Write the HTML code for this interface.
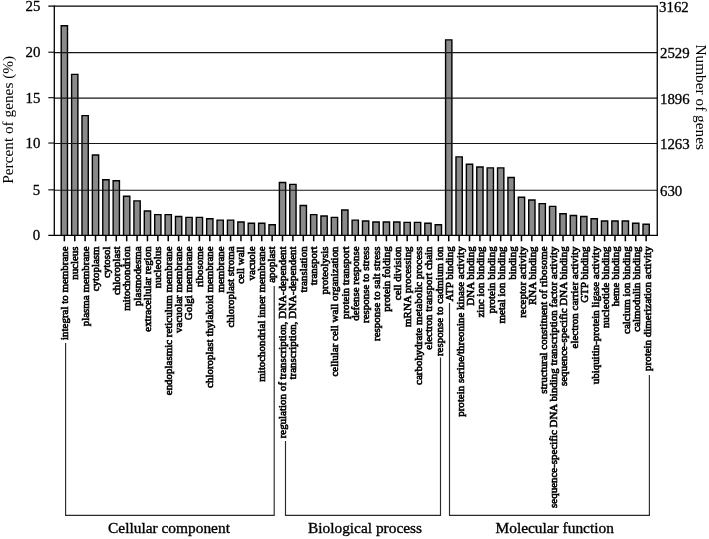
<!DOCTYPE html>
<html lang="en"><head><meta charset="utf-8"><title>GO classification</title>
<style>html,body{margin:0;padding:0;background:#fff;}body{width:709px;height:539px;overflow:hidden;}svg{display:block;font-family:"Liberation Serif","Times New Roman",serif;fill:#000;}svg{will-change:transform;}.lb{font-size:10.95px;stroke:#000;stroke-width:0.6px;}.tk{font-size:15.0px;stroke:#000;stroke-width:0.3px;}.gp{font-size:15.4px;stroke:#000;stroke-width:0.35px;}.ax{font-size:16px;}</style></head><body>
<svg width="709" height="539" viewBox="0 0 709 539">
<rect x="0" y="0" width="709" height="539" fill="#fff"/>
<g fill="#8a8a8a" stroke="#000" stroke-width="1.4">
<path d="M61.20 235.30V25.75H67.50V235.30"/>
<path d="M71.59 235.30V74.34H77.89V235.30"/>
<path d="M81.98 235.30V115.60H88.28V235.30"/>
<path d="M92.37 235.30V155.02H98.67V235.30"/>
<path d="M102.76 235.30V179.78H109.06V235.30"/>
<path d="M113.14 235.30V180.69H119.44V235.30"/>
<path d="M123.53 235.30V196.28H129.83V235.30"/>
<path d="M133.92 235.30V200.86H140.22V235.30"/>
<path d="M144.31 235.30V210.95H150.61V235.30"/>
<path d="M154.70 235.30V214.61H161.00V235.30"/>
<path d="M165.09 235.30V214.61H171.39V235.30"/>
<path d="M175.48 235.30V216.45H181.78V235.30"/>
<path d="M185.87 235.30V217.36H192.17V235.30"/>
<path d="M196.26 235.30V217.36H202.56V235.30"/>
<path d="M206.65 235.30V218.74H212.95V235.30"/>
<path d="M217.03 235.30V220.11H223.33V235.30"/>
<path d="M227.42 235.30V220.11H233.72V235.30"/>
<path d="M237.81 235.30V221.95H244.11V235.30"/>
<path d="M248.20 235.30V223.32H254.50V235.30"/>
<path d="M258.59 235.30V223.32H264.89V235.30"/>
<path d="M268.98 235.30V224.70H275.28V235.30"/>
<path d="M279.37 235.30V182.53H285.67V235.30"/>
<path d="M289.76 235.30V184.36H296.06V235.30"/>
<path d="M300.15 235.30V205.45H306.45V235.30"/>
<path d="M310.54 235.30V214.61H316.84V235.30"/>
<path d="M320.92 235.30V215.99H327.22V235.30"/>
<path d="M331.31 235.30V217.36H337.61V235.30"/>
<path d="M341.70 235.30V210.03H348.00V235.30"/>
<path d="M352.09 235.30V220.11H358.39V235.30"/>
<path d="M362.48 235.30V221.03H368.78V235.30"/>
<path d="M372.87 235.30V221.95H379.17V235.30"/>
<path d="M383.26 235.30V221.95H389.56V235.30"/>
<path d="M393.65 235.30V221.95H399.95V235.30"/>
<path d="M404.04 235.30V222.41H410.34V235.30"/>
<path d="M414.43 235.30V222.41H420.73V235.30"/>
<path d="M424.81 235.30V223.32H431.11V235.30"/>
<path d="M435.20 235.30V224.70H441.50V235.30"/>
<path d="M445.59 235.30V39.87H451.89V235.30"/>
<path d="M455.98 235.30V156.86H462.28V235.30"/>
<path d="M466.37 235.30V164.19H472.67V235.30"/>
<path d="M476.76 235.30V166.94H483.06V235.30"/>
<path d="M487.15 235.30V167.86H493.45V235.30"/>
<path d="M497.54 235.30V167.86H503.84V235.30"/>
<path d="M507.93 235.30V177.48H514.23V235.30"/>
<path d="M518.32 235.30V197.19H524.62V235.30"/>
<path d="M528.71 235.30V199.94H535.00V235.30"/>
<path d="M539.09 235.30V203.61H545.39V235.30"/>
<path d="M549.48 235.30V206.36H555.78V235.30"/>
<path d="M559.87 235.30V213.70H566.17V235.30"/>
<path d="M570.26 235.30V215.53H576.56V235.30"/>
<path d="M580.65 235.30V216.45H586.95V235.30"/>
<path d="M591.04 235.30V218.74H597.34V235.30"/>
<path d="M601.43 235.30V221.03H607.73V235.30"/>
<path d="M611.82 235.30V221.03H618.12V235.30"/>
<path d="M622.21 235.30V221.03H628.51V235.30"/>
<path d="M632.60 235.30V223.32H638.89V235.30"/>
<path d="M642.98 235.30V224.24H649.28V235.30"/>
</g>
<g stroke="#161616" stroke-width="1.12" fill="none">
<line x1="54.30" y1="190.25" x2="657.25" y2="190.25"/>
<line x1="54.30" y1="143.45" x2="657.25" y2="143.45"/>
<line x1="54.30" y1="98.10" x2="657.25" y2="98.10"/>
<line x1="54.30" y1="52.60" x2="657.25" y2="52.60"/>
</g>
<g stroke="#000" stroke-width="1.3" fill="none">
<line x1="54.30" y1="5.50" x2="54.30" y2="235.90"/>
<line x1="657.25" y1="5.50" x2="657.25" y2="235.90"/>
<line x1="48.30" y1="235.30" x2="657.25" y2="235.30"/>
<line x1="48.30" y1="6.10" x2="657.25" y2="6.10"/>
<line x1="64.35" y1="235.30" x2="64.35" y2="241.30" stroke-width="1.5"/>
<line x1="74.74" y1="235.30" x2="74.74" y2="241.30" stroke-width="1.5"/>
<line x1="85.13" y1="235.30" x2="85.13" y2="241.30" stroke-width="1.5"/>
<line x1="95.52" y1="235.30" x2="95.52" y2="241.30" stroke-width="1.5"/>
<line x1="105.91" y1="235.30" x2="105.91" y2="241.30" stroke-width="1.5"/>
<line x1="116.29" y1="235.30" x2="116.29" y2="241.30" stroke-width="1.5"/>
<line x1="126.68" y1="235.30" x2="126.68" y2="241.30" stroke-width="1.5"/>
<line x1="137.07" y1="235.30" x2="137.07" y2="241.30" stroke-width="1.5"/>
<line x1="147.46" y1="235.30" x2="147.46" y2="241.30" stroke-width="1.5"/>
<line x1="157.85" y1="235.30" x2="157.85" y2="241.30" stroke-width="1.5"/>
<line x1="168.24" y1="235.30" x2="168.24" y2="241.30" stroke-width="1.5"/>
<line x1="178.63" y1="235.30" x2="178.63" y2="241.30" stroke-width="1.5"/>
<line x1="189.02" y1="235.30" x2="189.02" y2="241.30" stroke-width="1.5"/>
<line x1="199.41" y1="235.30" x2="199.41" y2="241.30" stroke-width="1.5"/>
<line x1="209.80" y1="235.30" x2="209.80" y2="241.30" stroke-width="1.5"/>
<line x1="220.18" y1="235.30" x2="220.18" y2="241.30" stroke-width="1.5"/>
<line x1="230.57" y1="235.30" x2="230.57" y2="241.30" stroke-width="1.5"/>
<line x1="240.96" y1="235.30" x2="240.96" y2="241.30" stroke-width="1.5"/>
<line x1="251.35" y1="235.30" x2="251.35" y2="241.30" stroke-width="1.5"/>
<line x1="261.74" y1="235.30" x2="261.74" y2="241.30" stroke-width="1.5"/>
<line x1="272.13" y1="235.30" x2="272.13" y2="241.30" stroke-width="1.5"/>
<line x1="282.52" y1="235.30" x2="282.52" y2="241.30" stroke-width="1.5"/>
<line x1="292.91" y1="235.30" x2="292.91" y2="241.30" stroke-width="1.5"/>
<line x1="303.30" y1="235.30" x2="303.30" y2="241.30" stroke-width="1.5"/>
<line x1="313.69" y1="235.30" x2="313.69" y2="241.30" stroke-width="1.5"/>
<line x1="324.07" y1="235.30" x2="324.07" y2="241.30" stroke-width="1.5"/>
<line x1="334.46" y1="235.30" x2="334.46" y2="241.30" stroke-width="1.5"/>
<line x1="344.85" y1="235.30" x2="344.85" y2="241.30" stroke-width="1.5"/>
<line x1="355.24" y1="235.30" x2="355.24" y2="241.30" stroke-width="1.5"/>
<line x1="365.63" y1="235.30" x2="365.63" y2="241.30" stroke-width="1.5"/>
<line x1="376.02" y1="235.30" x2="376.02" y2="241.30" stroke-width="1.5"/>
<line x1="386.41" y1="235.30" x2="386.41" y2="241.30" stroke-width="1.5"/>
<line x1="396.80" y1="235.30" x2="396.80" y2="241.30" stroke-width="1.5"/>
<line x1="407.19" y1="235.30" x2="407.19" y2="241.30" stroke-width="1.5"/>
<line x1="417.58" y1="235.30" x2="417.58" y2="241.30" stroke-width="1.5"/>
<line x1="427.96" y1="235.30" x2="427.96" y2="241.30" stroke-width="1.5"/>
<line x1="438.35" y1="235.30" x2="438.35" y2="241.30" stroke-width="1.5"/>
<line x1="448.74" y1="235.30" x2="448.74" y2="241.30" stroke-width="1.5"/>
<line x1="459.13" y1="235.30" x2="459.13" y2="241.30" stroke-width="1.5"/>
<line x1="469.52" y1="235.30" x2="469.52" y2="241.30" stroke-width="1.5"/>
<line x1="479.91" y1="235.30" x2="479.91" y2="241.30" stroke-width="1.5"/>
<line x1="490.30" y1="235.30" x2="490.30" y2="241.30" stroke-width="1.5"/>
<line x1="500.69" y1="235.30" x2="500.69" y2="241.30" stroke-width="1.5"/>
<line x1="511.08" y1="235.30" x2="511.08" y2="241.30" stroke-width="1.5"/>
<line x1="521.47" y1="235.30" x2="521.47" y2="241.30" stroke-width="1.5"/>
<line x1="531.86" y1="235.30" x2="531.86" y2="241.30" stroke-width="1.5"/>
<line x1="542.24" y1="235.30" x2="542.24" y2="241.30" stroke-width="1.5"/>
<line x1="552.63" y1="235.30" x2="552.63" y2="241.30" stroke-width="1.5"/>
<line x1="563.02" y1="235.30" x2="563.02" y2="241.30" stroke-width="1.5"/>
<line x1="573.41" y1="235.30" x2="573.41" y2="241.30" stroke-width="1.5"/>
<line x1="583.80" y1="235.30" x2="583.80" y2="241.30" stroke-width="1.5"/>
<line x1="594.19" y1="235.30" x2="594.19" y2="241.30" stroke-width="1.5"/>
<line x1="604.58" y1="235.30" x2="604.58" y2="241.30" stroke-width="1.5"/>
<line x1="614.97" y1="235.30" x2="614.97" y2="241.30" stroke-width="1.5"/>
<line x1="625.36" y1="235.30" x2="625.36" y2="241.30" stroke-width="1.5"/>
<line x1="635.75" y1="235.30" x2="635.75" y2="241.30" stroke-width="1.5"/>
<line x1="646.13" y1="235.30" x2="646.13" y2="241.30" stroke-width="1.5"/>
<line x1="48.30" y1="189.85" x2="54.30" y2="189.85" stroke-width="1.1"/>
<line x1="48.30" y1="143.05" x2="54.30" y2="143.05" stroke-width="1.1"/>
<line x1="48.30" y1="97.70" x2="54.30" y2="97.70" stroke-width="1.1"/>
<line x1="48.30" y1="52.20" x2="54.30" y2="52.20" stroke-width="1.1"/>
</g>
<g class="tk" text-anchor="end">
<text transform="translate(40.30,240.10) scale(0.99,1.025)">0</text>
<text transform="translate(40.30,195.05) scale(0.99,1.025)">5</text>
<text transform="translate(40.30,148.25) scale(0.99,1.025)">10</text>
<text transform="translate(40.30,102.90) scale(0.99,1.025)">15</text>
<text transform="translate(40.30,57.40) scale(0.99,1.025)">20</text>
<text transform="translate(40.30,10.90) scale(0.99,1.025)">25</text>
</g>
<g class="tk" text-anchor="start">
<text transform="translate(660.00,195.75) scale(0.99,1.025)">630</text>
<text transform="translate(660.00,148.95) scale(0.99,1.025)">1263</text>
<text transform="translate(660.00,103.60) scale(0.99,1.025)">1896</text>
<text transform="translate(660.00,58.10) scale(0.99,1.025)">2529</text>
<text transform="translate(659.10,11.60) scale(0.99,1.025)">3162</text>
</g>
<text class="ax" style="font-size:15.3px" text-anchor="middle" transform="translate(13.2,119.8) rotate(-90)">Percent of genes (%)</text>
<text class="ax" style="font-size:15.3px" text-anchor="middle" transform="translate(695.8,97.2) rotate(90)">Number of genes</text>
<g class="lb" text-anchor="end">
<text transform="translate(68.05,246.40) rotate(-90)">integral to membrane</text>
<text transform="translate(78.42,246.40) rotate(-90)">nucleus</text>
<text transform="translate(88.79,246.40) rotate(-90)">plasma membrane</text>
<text transform="translate(99.16,246.40) rotate(-90)">cytoplasm</text>
<text transform="translate(109.53,246.40) rotate(-90)">cytosol</text>
<text transform="translate(119.89,246.40) rotate(-90)">chloroplast</text>
<text transform="translate(130.26,246.40) rotate(-90)">mitochondrion</text>
<text transform="translate(140.63,246.40) rotate(-90)">plasmodesma</text>
<text transform="translate(151.00,246.40) rotate(-90)">extracellular region</text>
<text transform="translate(161.37,246.40) rotate(-90)">nucleolus</text>
<text transform="translate(171.74,246.40) rotate(-90)">endoplasmic reticulum membrane</text>
<text transform="translate(182.11,246.40) rotate(-90)">vacuolar membrane</text>
<text transform="translate(192.48,246.40) rotate(-90)">Golgi membrane</text>
<text transform="translate(202.85,246.40) rotate(-90)">ribosome</text>
<text transform="translate(213.22,246.40) rotate(-90)">chloroplast thylakoid membrane</text>
<text transform="translate(223.58,246.40) rotate(-90)">membrane</text>
<text transform="translate(233.95,246.40) rotate(-90)">chloroplast stroma</text>
<text transform="translate(244.32,246.40) rotate(-90)">cell wall</text>
<text transform="translate(254.69,246.40) rotate(-90)">vacuole</text>
<text transform="translate(265.06,246.40) rotate(-90)">mitochondrial inner membrane</text>
<text transform="translate(275.43,246.40) rotate(-90)">apoplast</text>
<text transform="translate(285.88,246.40) rotate(-90)">regulation of transcription, DNA-dependent</text>
<text transform="translate(296.33,246.40) rotate(-90)">transcription, DNA-dependent</text>
<text transform="translate(306.78,246.40) rotate(-90)">translation</text>
<text transform="translate(317.23,246.40) rotate(-90)">transport</text>
<text transform="translate(327.67,246.40) rotate(-90)">proteolysis</text>
<text transform="translate(338.12,246.40) rotate(-90)">cellular cell wall organization</text>
<text transform="translate(348.57,246.40) rotate(-90)">protein transport</text>
<text transform="translate(359.02,246.40) rotate(-90)">defense response</text>
<text transform="translate(369.47,246.40) rotate(-90)">response to stress</text>
<text transform="translate(379.92,246.40) rotate(-90)">response to salt stress</text>
<text transform="translate(390.38,246.40) rotate(-90)">protein folding</text>
<text transform="translate(400.84,246.40) rotate(-90)">cell division</text>
<text transform="translate(411.30,246.40) rotate(-90)">mRNA processing</text>
<text transform="translate(421.76,246.40) rotate(-90)">carbohydrate metabolic process</text>
<text transform="translate(432.22,246.40) rotate(-90)">electron transport chain</text>
<text transform="translate(442.68,246.40) rotate(-90)">response to cadmium ion</text>
<text transform="translate(453.14,246.40) rotate(-90)">ATP binding</text>
<text transform="translate(463.54,246.40) rotate(-90)">protein serine/threonine kinase activity</text>
<text transform="translate(473.93,246.40) rotate(-90)">DNA binding</text>
<text transform="translate(484.33,246.40) rotate(-90)">zinc ion binding</text>
<text transform="translate(494.72,246.40) rotate(-90)">protein binding</text>
<text transform="translate(505.11,246.40) rotate(-90)">metal ion binding</text>
<text transform="translate(515.51,246.40) rotate(-90)">binding</text>
<text transform="translate(525.90,246.40) rotate(-90)">receptor activity</text>
<text transform="translate(536.30,246.40) rotate(-90)">RNA binding</text>
<text transform="translate(546.69,246.40) rotate(-90)">structural constituent of ribosome</text>
<text transform="translate(557.09,246.40) rotate(-90)">sequence-specific DNA binding transcription factor activity</text>
<text transform="translate(567.48,246.40) rotate(-90)">sequence-specific DNA binding</text>
<text transform="translate(577.87,246.40) rotate(-90)">electron carrier activity</text>
<text transform="translate(588.27,246.40) rotate(-90)">GTP binding</text>
<text transform="translate(598.66,246.40) rotate(-90)">ubiquitin-protein ligase activity</text>
<text transform="translate(609.06,246.40) rotate(-90)">nucleotide binding</text>
<text transform="translate(619.45,246.40) rotate(-90)">heme binding</text>
<text transform="translate(629.85,246.40) rotate(-90)">calcium ion binding</text>
<text transform="translate(640.24,246.40) rotate(-90)">calmodulin binding</text>
<text transform="translate(650.63,246.40) rotate(-90)">protein dimerization activity</text>
</g>
<g stroke="#2a2a2a" stroke-width="1.15" fill="none">
<polyline points="65.60,343.00 65.60,515.40 274.20,515.40 274.20,286.00"/>
<polyline points="285.50,441.00 285.50,515.40 440.50,515.40 440.50,357.50"/>
<polyline points="449.50,303.00 449.50,515.40 649.40,515.40 649.40,375.00"/>
</g>
<g class="gp" text-anchor="middle">
<text x="169.00" y="532.80">Cellular component</text>
<text x="365.00" y="532.80">Biological process</text>
<text x="554.70" y="532.80">Molecular function</text>
</g>
</svg></body></html>
